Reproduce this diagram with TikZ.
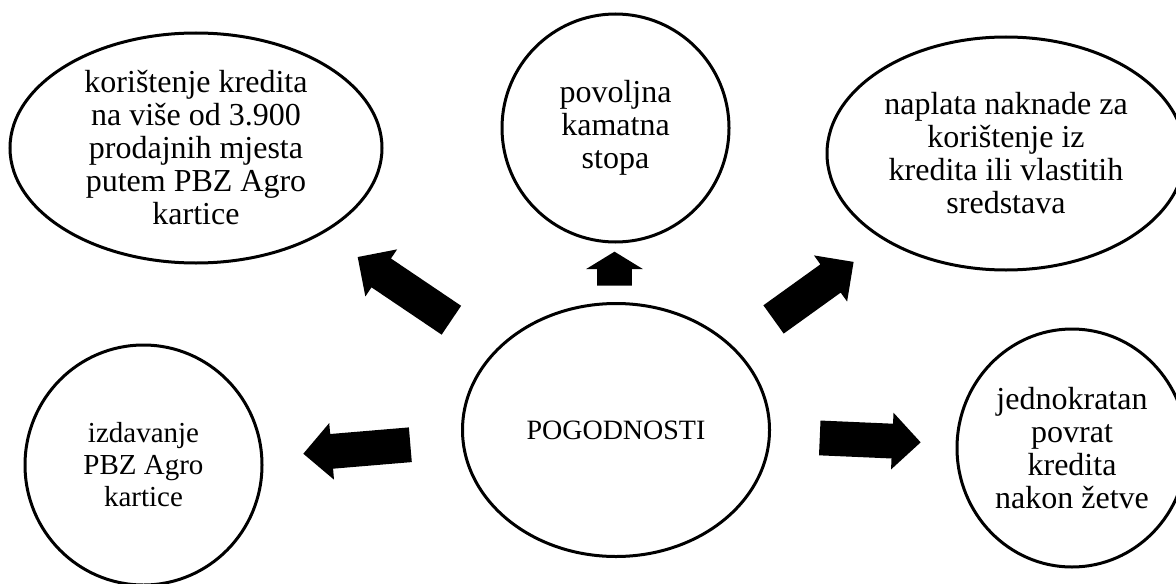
\documentclass[tikz,border=0pt]{standalone}
\usepackage{fontspec}
\setmainfont{Liberation Serif}
\usetikzlibrary{shapes.geometric,shapes.arrows}
\newcommand{\widthline}{1.5pt}
\newcommand{\widthshaft}{8.5pt}
\newcommand{\textbig}{\fontsize{16pt}{16.5pt}\selectfont}
\newcommand{\textmid}{\fontsize{14.5pt}{16pt}\selectfont}
\newcommand{\textsmall}{\fontsize{14pt}{16pt}\selectfont}
\tikzset{
    bubble/.style={draw, ellipse, line width=\widthline, inner sep=0pt, align=center, font=\textbig},
    fat/.style={single arrow, fill=black, draw=none, inner xsep=0pt, inner ysep=\widthshaft,
        single arrow head extend=5.5pt, single arrow head indent=0pt},
    flatfat/.style={fat, single arrow tip angle=117}
}

\begin{document}
\begin{tikzpicture}[x=0.5pt, y=-0.5pt]
    \useasboundingbox (0,0) rectangle (1176,583);
    \clip (0,0) rectangle (1176,583);

    \node[bubble, font=\textsmall, minimum width=153.5pt, minimum height=126.5pt] (Pog) at (616,430) {POGODNOSTI};
    \node[bubble, minimum width=186pt, minimum height=115pt] (Kart) at (196,148)
        {korištenje kredita\\na više od 3.900\\prodajnih mjesta\\putem PBZ Agro\\kartice};
    \node[bubble, minimum width=113.5pt, minimum height=114pt] (Kamata) at (615.5,128)
        {povoljna\\kamatna\\stopa};
    \node[bubble, minimum width=179pt, minimum height=116.5pt] (Naplata) at (1006,153.5)
        {naplata naknade za\\korištenje iz\\kredita ili vlastitih\\sredstava};
    \node[bubble, font=\textmid, minimum width=118.5pt, minimum height=120pt] (Izdav) at (143.5,465)
        {izdavanje\\PBZ Agro\\kartice};
    \node[bubble, minimum width=115pt, minimum height=119pt] (Povrat) at (1072,448)
        {jednokratan\\povrat\\kredita\\nakon žetve};

    % block arrows
    \node[fat, rotate=146, minimum height=56.5pt] (aKart) at (411.75,293.5) {};
    \node[flatfat, rotate=90, minimum height=17pt] (aKamata) at (614.5,274) {};
    \node[fat, rotate=35.7, minimum height=49.3pt] (aNaplata) at (806.5,295.75) {};
    \node[fat, rotate=184.8, minimum height=53.7pt] (aIzdav) at (365.5,448.5) {};
    \node[fat, rotate=-2.5, minimum height=50.5pt] (aPovrat) at (861.5,439.75) {};
\end{tikzpicture}
\end{document}
